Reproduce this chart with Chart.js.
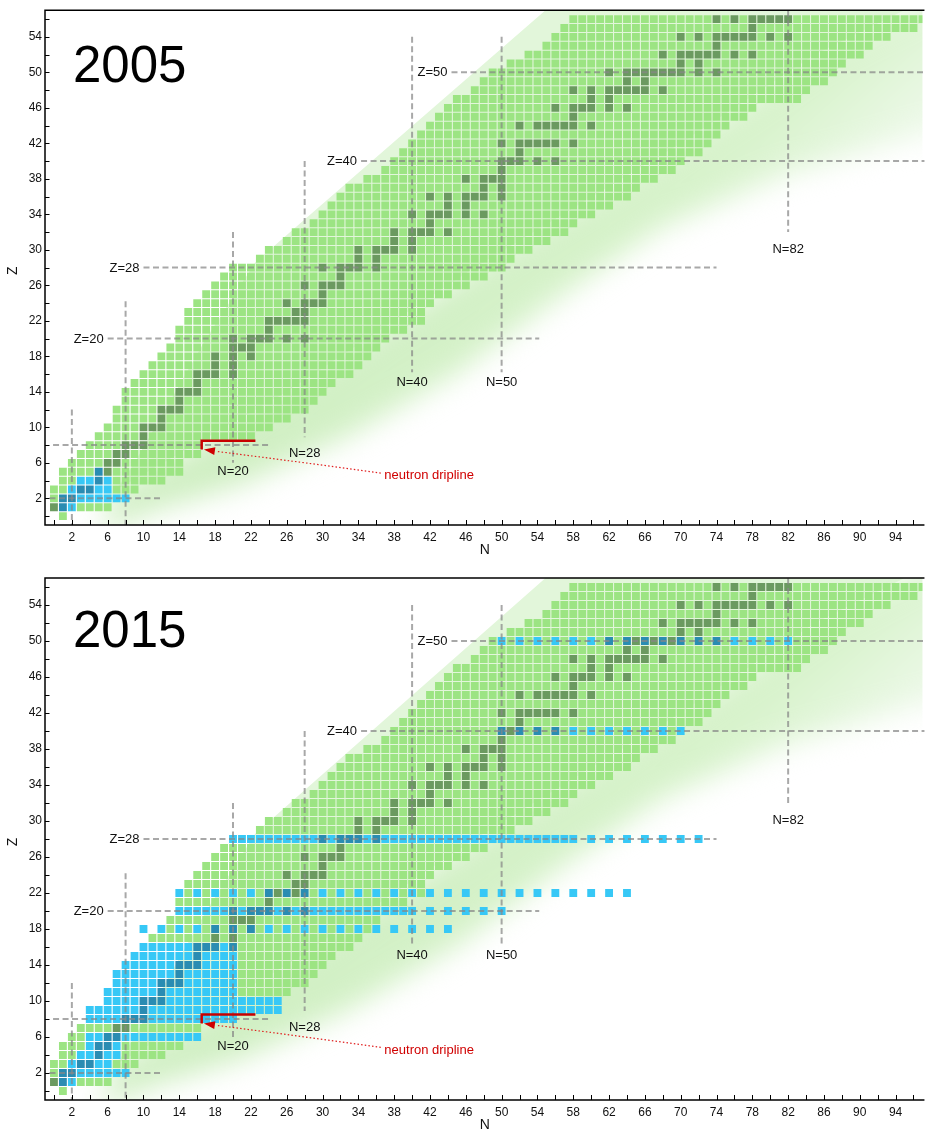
<!DOCTYPE html>
<html><head><meta charset="utf-8">
<script src="https://cdn.jsdelivr.net/npm/chart.js@4.4.1/dist/chart.umd.min.js"></script>
<style>
html,body{margin:0;padding:0;background:#fff;width:928px;height:1132px;overflow:hidden}
.p{position:absolute;left:0;width:928px;height:566px}
</style></head><body>
<div class="p" style="top:0"><canvas id="c1" width="928" height="566"></canvas></div>
<div class="p" style="top:566px"><canvas id="c2" width="928" height="566"></canvas></div>
<script>
// ---------------- data ----------------
// known nuclei: for each Z (index) the lightest and heaviest N
const N_MIN = [1,0,0,0,1,1,2,3,4,5,6,7,7,8,8,9,10,11,12,13,14,14,15,15,16,17,18,19,20,23,24,26,27,29,30,31,32,33,35,37,38,39,40,41,42,43,44,45,47,48,49,51,53,55,56,57,58];
const N_MAX = [1,6,8,9,12,14,14,16,16,22,24,26,28,29,30,31,33,34,35,36,37,39,41,41,42,44,46,48,50,51,53,55,57,58,60,62,64,65,67,69,70,72,73,74,75,77,78,83,84,86,87,88,90,91,93,96,97];
// stable nuclei (N values) for each Z
const STABLE = [[],[0,1],[1,2],[3,4],[5],[5,6],[6,7],[7,8],[8,9,10],[10],[10,11,12],[12],[12,13,14],[14],[14,15,16],[16],[16,17,18,20],[18,20],[18,20,22],[20,21,22],[20,22,23,24,26,28],[24],[24,25,26,27,28],[27,28],[26,28,29,30],[30],[28,30,31,32],[32],[30,32,33,34,36],[34,36],[34,36,37,38,40],[38,40],[38,40,41,42,44],[42],[40,42,43,44,46,48],[44,46],[42,44,46,47,48,50],[48,50],[46,48,49,50],[50],[50,51,52,54,56],[52],[50,52,53,54,55,56,58],[],[52,54,55,56,57,58,60],[58],[56,58,59,60,62,64],[60,62],[58,60,62,63,64,65,66,68],[64,66],[62,64,65,66,67,68,69,70,72,74],[70,72],[68,70,71,72,73,74,76,78],[74],[70,72,74,75,76,77,78,80,82],[78],[74,76,78,79,80,81,82]];
// nuclei reached by ab initio calculations, by Z
const CALC_2005 = {
  1:[1,2], 2:[1,2,3,4,5,6,7,8], 3:[2,3,4,5,6], 4:[3,4,5,6], 5:[5]
};
const CALC_2015 = {
  1:[1,2], 2:[1,2,3,4,5,6,7,8], 3:[2,3,4,5,6], 4:[3,4,5,6,7], 5:[4,5,6,7],
  6:[4,5,6,7,8,9,10,11,12,13,14,15,16],
  8:[4,5,6,7,8,9,10,11,12,13,14,15,16,17,18,19,20],
  9:[4,5,6,7,8,9,10,11,12,13,14,15,16,17,18,19,20,21,22,23,24,25],
  10:[6,7,8,9,10,11,12,13,14,15,16,17,18,19,20,21,22,23,24,25],
  11:[6,7,8,9,10,11,12,13,14,15,16,17,18,19,20],
  12:[7,8,9,10,11,12,13,14,15,16,17,18,19,20],
  13:[7,8,9,10,11,12,13,14,15,16,17,18,19,20],
  14:[8,9,10,11,12,13,14,15,16,17,18,19,20],
  15:[9,10,11,12,13,14,15,16,17,18,19,20],
  16:[10,11,12,13,14,15,16,17,18,19,20],
  18:[10,12,14,16,18,20,22,24,26,28,30,32,34,36,38,40,42,44],
  20:[14,15,16,17,18,19,20,21,22,23,24,25,26,27,28,29,30,31,32,33,34,35,36,37,38,39,40,42,44,46,48,50],
  22:[14,16,18,20,22,24,26,28,30,32,34,36,38,40,42,44,46,48,50,52,54,56,58,60,62,64],
  28:[20,21,22,23,24,25,26,27,28,29,30,31,32,33,34,35,36,37,38,39,40,41,42,43,44,45,46,47,48,49,50,51,52,53,54,55,56,57,58,60,62,64,66,68,70,72],
  40:[50,52,54,56,58,60,62,64,66,68,70],
  50:[50,52,54,56,58,60,62,64,66,68,70,72,74,76,78,80,82]
};
const X_TICKS = [0,2,4,6,8,10,12,14,16,18,20,22,24,26,28,30,32,34,36,38,40,42,44,46,48,50,52,54,56,58,60,62,64,66,68,70,72,74,76,78,80,82,84,86,88,90,92,94,96];
const X_LABELS = [2,6,10,14,18,22,26,30,34,38,42,46,50,54,58,62,66,70,74,78,82,86,90,94];
const Y_TICKS = [0,2,4,6,8,10,12,14,16,18,20,22,24,26,28,30,32,34,36,38,40,42,44,46,48,50,52,54,56];
const Y_LABELS = [2,6,10,14,18,22,26,30,34,38,42,46,50,54];

// ---------------- styling / layout ----------------
const FONT = "'Liberation Sans', Arial, Helvetica, sans-serif";
const COL = {green:'#9ce483', stable:'#6b9a60', blue:'#37c8f6', blueStable:'#2a8cb2'};
const HLINES = [ // [Z, Nfrom, Nto, label]
  [2,-0.5,12,null],[8,-0.1,24.2,null],[20,6,54.2,'Z=20'],[28,10,74,'Z=28'],[40,34.3,98,'Z=40'],[50,44.4,98,'Z=50']];
const VLINES = [ // [N, Zfrom, Zto, label, labelZ]
  [2,12,-1.5,null],[8,24.2,-1.5,null],[20,32,6,'N=20',5],[28,40,8.9,'N=28',7.1],[40,54,16.2,'N=40',15.1],[50,54,16.2,'N=50',15.1],[82,58,32,'N=82',30.1]];
// background bands (shape of the shaded region, in N/Z units)
const BAND_UPPER = [[9,6],[17,20],[22.5,28.6],[54.9,57],[60,62]];
const BAND_MID = [[105,62],[85,52],[70,42],[47,28],[26,14],[7,3]];
const BAND_LOWER = [[5,-2],[11,0.5],[21,3.5],[33,9],[45,16],[57,25],[68,32.5],[82,38.5],[96,42.6],[105,45]];

function buildSets(calc){
  const g=[],s=[],b=[],bs=[];
  for(let z=0;z<N_MIN.length;z++){
    const st = STABLE[z]||[];
    const cz = calc[z]||[];
    for(let n=N_MIN[z];n<=N_MAX[z];n++){
      if(cz.includes(n)) continue;
      (st.includes(n)?s:g).push({x:n,y:z});
    }
    cz.forEach(n=>{ (st.includes(n)?bs:b).push({x:n,y:z}); });
  }
  const mk=(d,c)=>({data:d,backgroundColor:c,borderWidth:0,pointStyle:'rect',pointRadius:5.55,pointHoverRadius:5.55});
  return [mk(g,COL.green),mk(s,COL.stable),mk(b,COL.blue),mk(bs,COL.blueStable)];
}

function poly(ctx,P,pts){
  ctx.beginPath();
  pts.forEach((p,i)=>{const q=P(p[0],p[1]); i?ctx.lineTo(q[0],q[1]):ctx.moveTo(q[0],q[1]);});
  ctx.closePath();
}

const panelPlugin = {
  id:'panel',
  beforeDatasetsDraw(chart){
    const {ctx,chartArea:a,scales:{x,y}}=chart;
    const P=(n,z)=>[x.getPixelForValue(n),y.getPixelForValue(z)];
    ctx.save();
    ctx.beginPath(); ctx.rect(a.left,a.top,a.right-a.left,a.bottom-a.top); ctx.clip();
    // crisp light band (proton side)
    poly(ctx,P,BAND_UPPER.concat(BAND_MID));
    ctx.fillStyle='#e2f6da'; ctx.fill();
    // soft fading band (neutron side)
    ctx.filter='blur(14px)';
    poly(ctx,P,BAND_MID.concat(BAND_LOWER));
    const p0=P(46,30), p1=P(62,12);
    const gr=ctx.createLinearGradient(p0[0],p0[1],p1[0],p1[1]);
    gr.addColorStop(0,'#d0efc3'); gr.addColorStop(0.5,'#d8f3cc'); gr.addColorStop(1,'#eef9ea');
    ctx.fillStyle=gr; ctx.fill();
    ctx.filter='none';
    ctx.restore();
  },
  afterDatasetsDraw(chart){
    const {ctx,chartArea:a,scales:{x,y}}=chart;
    const o=chart.options.plugins.panel;
    const P=(n,z)=>[x.getPixelForValue(n),y.getPixelForValue(z)];
    ctx.save();
    ctx.beginPath(); ctx.rect(a.left,a.top,a.right-a.left+2,a.bottom-a.top); ctx.clip();
    // dashed magic lines
    ctx.strokeStyle='rgba(135,135,135,0.72)'; ctx.lineWidth=2; ctx.setLineDash([6,3.5]);
    HLINES.forEach(h=>{const p=P(h[1],h[0]),q=P(h[2],h[0]);ctx.beginPath();ctx.moveTo(p[0],p[1]);ctx.lineTo(q[0],q[1]);ctx.stroke();});
    VLINES.forEach(v=>{const p=P(v[0],v[1]),q=P(v[0],v[2]);ctx.beginPath();ctx.moveTo(p[0],p[1]);ctx.lineTo(q[0],q[1]);ctx.stroke();});
    ctx.setLineDash([]);
    // labels
    ctx.fillStyle='#111'; ctx.font='13px '+FONT; ctx.textBaseline='middle';
    ctx.textAlign='right';
    HLINES.forEach(h=>{ if(!h[3])return; const p=P(h[1],h[0]); ctx.fillText(h[3],p[0]-4,p[1]+0.5);});
    ctx.textAlign='center';
    VLINES.forEach(v=>{ if(!v[3])return; const p=P(v[0],v[4]); ctx.fillText(v[3],p[0],p[1]);});
    // neutron dripline marker
    ctx.strokeStyle='#c80000'; ctx.lineWidth=2.5; ctx.lineCap='butt';
    let r1=P(16.5,7.5),r2=P(16.5,8.5),r3=P(22.5,8.5);
    ctx.beginPath(); ctx.moveTo(r1[0],r1[1]); ctx.lineTo(r2[0],r2[1]); ctx.lineTo(r3[0],r3[1]); ctx.stroke();
    // dotted arrow
    const t0=P(36.5,4.85), tc=P(27.5,6.1), t1=P(18.1,7.3), tip=P(16.75,7.5);
    ctx.strokeStyle='#e02020'; ctx.lineWidth=1.2; ctx.setLineDash([1.5,2.2]);
    ctx.beginPath(); ctx.moveTo(t0[0],t0[1]); ctx.quadraticCurveTo(tc[0],tc[1],t1[0],t1[1]); ctx.stroke();
    ctx.setLineDash([]);
    const ang=Math.atan2(tip[1]-t1[1],tip[0]-t1[0]);
    ctx.fillStyle='#d00000'; ctx.beginPath();
    ctx.moveTo(tip[0],tip[1]);
    ctx.lineTo(tip[0]-11*Math.cos(ang)+4*Math.sin(ang), tip[1]-11*Math.sin(ang)-4*Math.cos(ang));
    ctx.lineTo(tip[0]-11*Math.cos(ang)-4*Math.sin(ang), tip[1]-11*Math.sin(ang)+4*Math.cos(ang));
    ctx.closePath(); ctx.fill();
    ctx.fillStyle='#d00000'; ctx.textAlign='left'; ctx.font='13px '+FONT;
    const tp=P(36.9,4.55); ctx.fillText('neutron dripline',tp[0],tp[1]);
    ctx.restore();
    // year
    ctx.save(); ctx.fillStyle='#000'; ctx.font='51px '+FONT; ctx.textAlign='left'; ctx.textBaseline='alphabetic';
    ctx.fillText(o.year,73,a.top+o.yearDy); ctx.restore();
    // frame + ticks
    ctx.save(); ctx.strokeStyle='#000'; ctx.lineWidth=1.5;
    ctx.beginPath(); ctx.moveTo(a.right+2,a.top); ctx.lineTo(a.left,a.top); ctx.lineTo(a.left,a.bottom); ctx.lineTo(a.right+2,a.bottom); ctx.stroke();
    ctx.lineWidth=1;
    X_TICKS.forEach(v=>{const px=Math.round(x.getPixelForValue(v))+0.5; ctx.beginPath(); ctx.moveTo(px,a.bottom); ctx.lineTo(px,a.bottom-5); ctx.stroke();});
    Y_TICKS.forEach(v=>{const py=Math.round(y.getPixelForValue(v))+0.5; ctx.beginPath(); ctx.moveTo(a.left,py); ctx.lineTo(a.left+4.5,py); ctx.stroke();});
    // axis titles
    ctx.fillStyle='#111'; ctx.font='14px '+FONT; ctx.textAlign='center'; ctx.textBaseline='middle';
    ctx.fillText('N',(a.left+a.right)/2+1,a.bottom+25);
    ctx.translate(13,(a.top+a.bottom)/2+3); ctx.rotate(-Math.PI/2); ctx.fillText('Z',0,0);
    ctx.restore();
  }
};

function makePanel(id, calc, year, topPad, axisH, yearDy){
  return new Chart(document.getElementById(id),{
    type:'scatter',
    data:{datasets:buildSets(calc)},
    options:{
      responsive:false, animation:false, events:[],
      layout:{padding:{top:topPad,right:1,left:0,bottom:0}},
      plugins:{legend:{display:false},tooltip:{enabled:false},panel:{year:year,yearDy:yearDy}},
      scales:{
        x:{type:'linear',min:-1,max:97,
          afterBuildTicks:s=>{s.ticks=X_TICKS.map(v=>({value:v}));},
          afterFit:s=>{s.height=axisH;},
          grid:{display:false,drawTicks:false}, border:{display:false},
          ticks:{autoSkip:false,maxRotation:0,padding:5,color:'#111',font:{size:12,family:FONT},
            callback:v=>X_LABELS.includes(v)?String(v):''}},
        y:{type:'linear',min:-1,max:57,
          afterBuildTicks:s=>{s.ticks=Y_TICKS.map(v=>({value:v}));},
          afterFit:s=>{s.width=45;},
          grid:{display:false,drawTicks:false}, border:{display:false},
          ticks:{autoSkip:false,padding:3,color:'#111',font:{size:12,family:FONT},
            callback:v=>Y_LABELS.includes(v)?String(v):''}}
      }
    },
    plugins:[panelPlugin]
  });
}
makePanel('c1',CALC_2005,'2005',3,41,72);
makePanel('c2',CALC_2015,'2015',12,32,69);
</script>
</body></html>
